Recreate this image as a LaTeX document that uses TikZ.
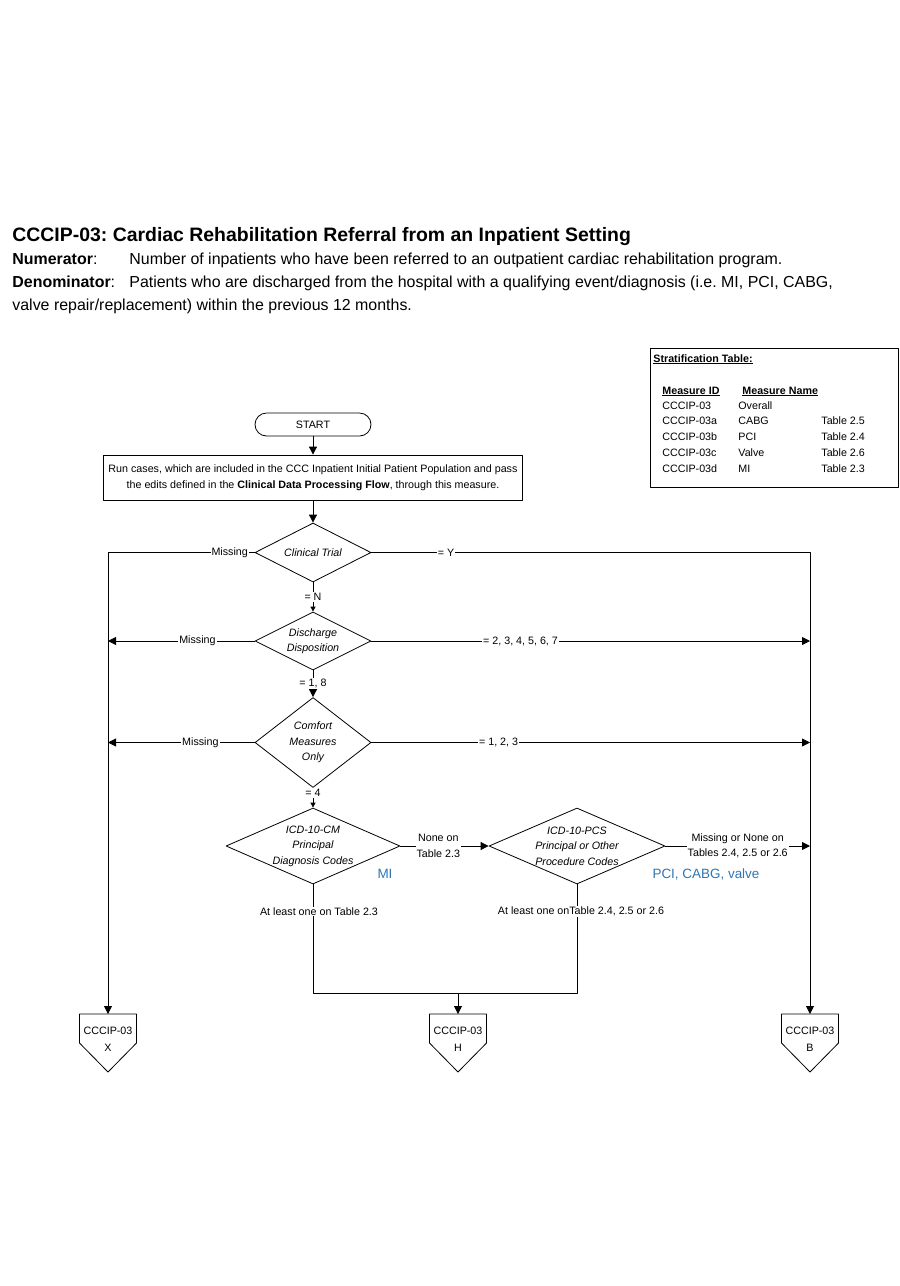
\documentclass[tikz,border=0pt]{standalone}
\usepackage{fontspec}
\setmainfont{Liberation Sans}
\usetikzlibrary{arrows.meta,positioning,calc,shapes.geometric}
\definecolor{miblue}{RGB}{46,117,182}
\newcommand\flowfont{\fontsize{10.75}{15.5}\selectfont}
\tikzset{
arr/.style={-{Triangle[length=8bp,width=8bp]}},
sarr/.style={-{Triangle[length=5bp,width=5bp]}},
lab/.style={fill=white,inner sep=1bp,font=\flowfont,align=center},
dec/.style={draw,diamond,inner sep=0pt,aspect=2},
dtext/.style={font=\flowfont\itshape,align=center,inner sep=0pt},
txt/.style={anchor=base west,inner sep=0pt},
}
\newcommand \mydrawoffpage[3]
{
\coordinate (#1) at (#2,1014);
\draw (#1) ++(-28.5,0) -- ++(57,0) -- ++(0,29) -- ++(-28.5,29) -- ++(-28.5,-29) -- cycle;
\node[lab,fill=none,font=\fontsize{10.75}{17}\selectfont] (#1t) at (#2,1039.5) {CCCIP-03\\#3};
}
\frenchspacing
\begin{document}
\begin{tikzpicture}[x=1bp,y=-1bp,line width=0.8bp,line join=round]
\useasboundingbox (0,0) rectangle (900,1286);
% heading
\node[txt,font=\fontsize{19.5}{23}\selectfont\bfseries] (title) at (12,241) {CCCIP-03: Cardiac Rehabilitation Referral from an Inpatient Setting};
\node[txt,font=\fontsize{16}{19}\selectfont] (numlab) at (12,264) {\textbf{Numerator}:};
\node[txt,font=\fontsize{16}{19}\selectfont] (numtxt) at (129,264) {Number of inpatients who have been referred to an outpatient cardiac rehabilitation program.};
\node[txt,font=\fontsize{16}{19}\selectfont] (denlab) at (12,287) {\textbf{Denominator}:};
\node[txt,font=\fontsize{16}{19}\selectfont] (dentxt) at (129,287) {Patients who are discharged from the hospital with a qualifying event/diagnosis (i.e. MI, PCI, CABG,};
\node[txt,font=\fontsize{16}{19}\selectfont] (dentxt2) at (12,310) {valve repair/replacement) within the previous 12 months.};
% stratification table
\draw (650,348) rectangle (898,487);
\node[txt,font=\flowfont\bfseries] (strat) at (653,362) {\underline{Stratification Table:}};
\node[txt,font=\flowfont\bfseries] (hid) at (662,394) {\underline{Measure ID}};
\node[txt,font=\flowfont\bfseries] (hname) at (742,394) {\underline{Measure Name}};
\foreach \mid/\mname/\mtab [count=\i from 0] in {CCCIP-03/Overall/{},CCCIP-03a/CABG/Table 2.5,CCCIP-03b/PCI/Table 2.4,CCCIP-03c/Valve/Table 2.6,CCCIP-03d/MI/Table 2.3}
{
\node[txt,font=\flowfont] (id\i) at (662,409+15.75*\i) {\mid};
\node[txt,font=\flowfont] (nm\i) at (738,409+15.75*\i) {\mname};
\node[txt,font=\flowfont] (tb\i) at (821,409+15.75*\i) {\mtab};
}
% flow
\node[draw,rounded corners=11.5bp,minimum width=116bp,minimum height=23bp,font=\flowfont] (start) at (313,424.5) {START};
\node[draw,minimum width=419bp,minimum height=45bp,align=center,font=\fontsize{10.75}{16}\selectfont] (run) at (313,477.5) {Run cases, which are included in the CCC Inpatient Initial Patient Population and pass\\the edits defined in the \textbf{Clinical Data Processing Flow}, through this measure.};
\node[dec,minimum width=116bp,minimum height=59bp] (ct) at (313,552.5) {};
\node[dtext] (ctt) at (ct) {Clinical Trial};
\node[dec,minimum width=116bp,minimum height=58bp] (dd) at (313,641) {};
\node[dtext] (ddt) at (dd) {Discharge\\Disposition};
\node[dec,minimum width=116bp,minimum height=90bp] (cmo) at (313,742.5) {};
\node[dtext] (cmot) at (cmo) {Comfort\\Measures\\Only};
\node[dec,minimum width=174bp,minimum height=76bp] (cm) at (313,846) {};
\node[dtext] (cmt) at (cm) {ICD-10-CM\\Principal\\Diagnosis Codes};
\node[dec,minimum width=176bp,minimum height=76bp] (pcs) at (577,846) {};
\node[dtext] (pcst) at (pcs) {ICD-10-PCS\\Principal or Other\\Procedure Codes};
\node[font=\fontsize{13.5}{15}\selectfont,text=miblue] (mi) at (385,874) {MI};
\node[font=\fontsize{13.5}{15}\selectfont,text=miblue] (pcv) at (706,874) {PCI, CABG, valve};
\mydrawoffpage{xc}{108}{X}
\mydrawoffpage{hc}{458}{H}
\mydrawoffpage{bc}{810}{B}
\coordinate (jn) at (458,993);
% connectors
\draw[arr] (start) -- (run);
\draw[arr] (run) -- (ct);
\draw[arr] (ct.west) -- node[lab,pos=0.17]{Missing} (ct.west -| xc) -- (xc);
\draw[arr] (ct.east) -- node[lab,pos=0.17]{= Y} (ct.east -| bc) -- (bc);
\draw[sarr] (ct) -- node[lab]{= N} (dd);
\draw[arr] (dd.west) -- node[lab,pos=0.39]{Missing} (dd.west -| xc);
\draw[arr] (dd.east) -- node[lab,pos=0.34]{= 2, 3, 4, 5, 6, 7} (dd.east -| bc);
\draw[arr] (dd) -- node[lab]{= 1, 8} (cmo);
\draw[arr] (cmo.west) -- node[lab,pos=0.37]{Missing} (cmo.west -| xc);
\draw[arr] (cmo.east) -- node[lab,pos=0.29]{= 1, 2, 3} (cmo.east -| bc);
\draw[sarr] (cmo) -- node[lab,pos=0.25]{= 4} (cm);
\draw[arr] (cm.east) -- node[lab,pos=0.43]{None on\\Table 2.3} (pcs.west);
\draw[arr] (pcs.east) -- node[lab,pos=0.5]{Missing or None on\\Tables 2.4, 2.5 or 2.6} (pcs.east -| bc);
\draw (cm.south) -- node[lab,pos=0.25,xshift=6bp]{At least one on Table 2.3} (cm.south |- jn) -- (jn -| pcs.south) -- node[lab,pos=0.75,xshift=4bp]{At least one onTable 2.4, 2.5 or 2.6} (pcs.south);
\draw[arr] (jn) -- (hc);
\end{tikzpicture}
\end{document}
